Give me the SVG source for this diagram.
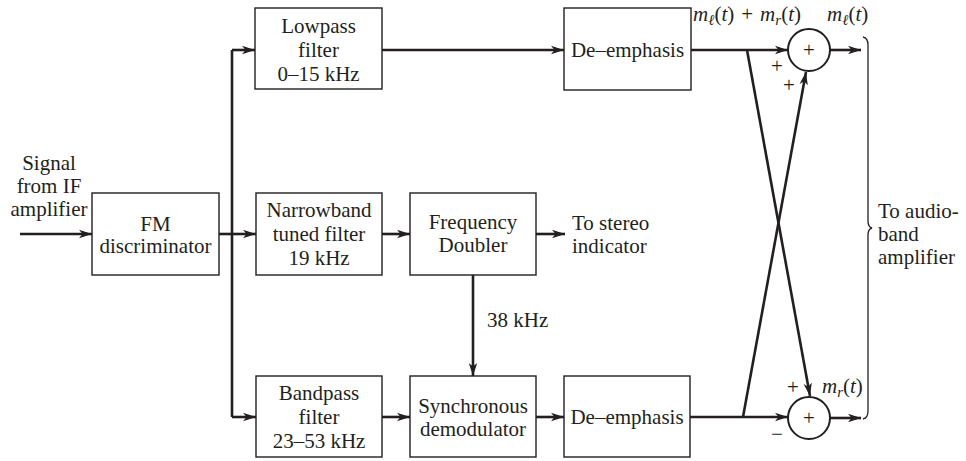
<svg xmlns="http://www.w3.org/2000/svg" width="966" height="461" viewBox="0 0 966 461">
<defs>
<marker id="ah" markerWidth="14" markerHeight="10" refX="13" refY="5" orient="auto" markerUnits="userSpaceOnUse">
<path d="M0,0.8 L13,5 L0,9.2 L3.5,5 Z" fill="#231f20"/>
</marker>
</defs>
<style>
.box{fill:#fff;stroke:#231f20;stroke-width:1.4}
.sum{fill:#fff;stroke:#231f20;stroke-width:2}
.c{fill:none;stroke:#231f20;stroke-width:2.6}
.ca{fill:none;stroke:#231f20;stroke-width:2.6;marker-end:url(#ah)}
text{font-family:"Liberation Serif","Times New Roman",serif;font-size:21px;fill:#231f20}
.m{text-anchor:middle}
.i{font-style:italic}
.s{font-size:15px}
</style>
<rect width="966" height="461" fill="#fff"/>
<g id="connectors">
<path class="ca" d="M20,234 H92"/>
<path class="c" d="M219,234 H232"/>
<path class="c" d="M232,50 V417"/>
<path class="ca" d="M232,50 H255"/>
<path class="ca" d="M232,234 H256"/>
<path class="ca" d="M232,417 H256"/>
<path class="ca" d="M382,50 H564"/>
<path class="ca" d="M382,234 H410"/>
<path class="ca" d="M536,234 H565"/>
<path class="ca" d="M473,275 V376"/>
<path class="ca" d="M382,417 H410"/>
<path class="ca" d="M536,417 H564"/>
<path class="ca" d="M691,50 H788"/>
<path class="ca" d="M690,417 H788"/>
<path class="ca" d="M747,50 L810,396"/>
<path class="ca" d="M743,417 L806,72"/>
<path class="ca" d="M830,50 H861"/>
<path class="ca" d="M830,418 H861"/>
<path d="M863,37 Q868,38 868,45 V221 Q868,227 872,228 Q868,229 868,235 V411 Q868,418 863,419" fill="none" stroke="#231f20" stroke-width="1.3"/>
</g>
<g id="input-label">
<text class="m" x="49" y="170">Signal</text>
<text class="m" x="49" y="193">from IF</text>
<text class="m" x="49" y="216">amplifier</text>
</g>
<g id="fm-discriminator">
<rect class="box" x="92" y="193" width="127" height="82"/>
<text class="m" x="155.5" y="231">FM</text>
<text class="m" x="155.5" y="253">discriminator</text>
</g>
<g id="lowpass">
<rect class="box" x="255" y="8" width="127" height="81"/>
<text class="m" x="318.5" y="33">Lowpass</text>
<text class="m" x="318.5" y="57">filter</text>
<text class="m" x="318.5" y="81">0–15 kHz</text>
</g>
<g id="narrowband">
<rect class="box" x="256" y="193" width="126" height="82"/>
<text class="m" x="319" y="217">Narrowband</text>
<text class="m" x="319" y="241">tuned filter</text>
<text class="m" x="319" y="265">19 kHz</text>
</g>
<g id="bandpass">
<rect class="box" x="256" y="376" width="126" height="81"/>
<text class="m" x="319" y="400">Bandpass</text>
<text class="m" x="319" y="424">filter</text>
<text class="m" x="319" y="448">23–53 kHz</text>
</g>
<g id="doubler">
<rect class="box" x="410" y="193" width="126" height="82"/>
<text class="m" x="473" y="229">Frequency</text>
<text class="m" x="473" y="252">Doubler</text>
</g>
<g id="stereo-label">
<text x="572" y="230">To stereo</text>
<text x="572" y="253">indicator</text>
</g>
<g id="label-38">
<text x="487" y="327">38 kHz</text>
</g>
<g id="sync-demod">
<rect class="box" x="410" y="376" width="126" height="81"/>
<text class="m" x="473" y="413">Synchronous</text>
<text class="m" x="473" y="436">demodulator</text>
</g>
<g id="deemph-top">
<rect class="box" x="564" y="8" width="127" height="82"/>
<text class="m" x="627.5" y="57">De–emphasis</text>
</g>
<g id="deemph-bottom">
<rect class="box" x="564" y="376" width="126" height="81"/>
<text class="m" x="627" y="424">De–emphasis</text>
</g>
<g id="sum-top">
<circle class="sum" cx="809" cy="50" r="21"/>
<text class="m" x="809" y="57">+</text>
<text class="m" x="777" y="73">+</text>
<text class="m" x="789" y="92">+</text>
</g>
<g id="sum-bottom">
<circle class="sum" cx="809" cy="418" r="21"/>
<text class="m" x="809" y="425">+</text>
<text class="m" x="793" y="394">+</text>
<text class="m" x="777" y="441">−</text>
</g>
<g id="signal-labels">
<text x="693" y="21"><tspan class="i">m</tspan><tspan class="i s" dy="4">ℓ</tspan><tspan dy="-4">(</tspan><tspan class="i">t</tspan>)<tspan dx="7">+</tspan><tspan class="i" dx="7">m</tspan><tspan class="i s" dy="4">r</tspan><tspan dy="-4">(</tspan><tspan class="i">t</tspan>)</text>
<text x="827" y="21"><tspan class="i">m</tspan><tspan class="i s" dy="4">ℓ</tspan><tspan dy="-4">(</tspan><tspan class="i">t</tspan>)</text>
<text x="822" y="393"><tspan class="i">m</tspan><tspan class="i s" dy="4">r</tspan><tspan dy="-4">(</tspan><tspan class="i">t</tspan>)</text>
</g>
<g id="audio-label">
<text x="878" y="218">To audio-</text>
<text x="878" y="241">band</text>
<text x="878" y="264">amplifier</text>
</g>
</svg>
